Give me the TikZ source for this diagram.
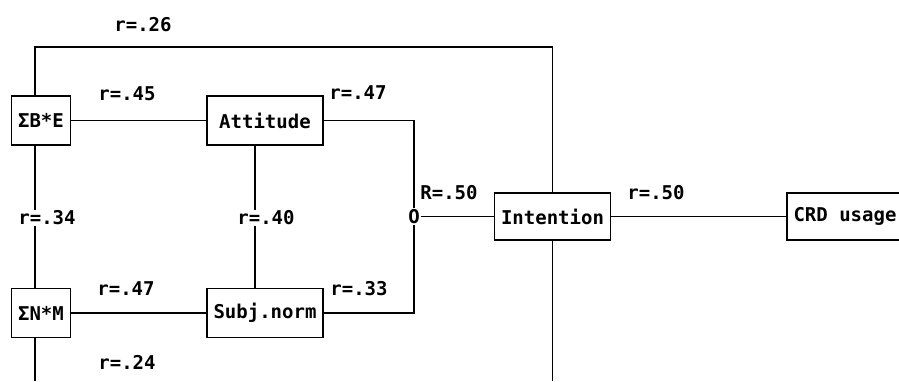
\documentclass[tikz,border=0pt]{standalone}
\usepackage{fontspec}
\setmonofont{DejaVu Sans Mono}
\usetikzlibrary{positioning}

\begin{document}
\begin{tikzpicture}[
  x=1pt, y=-1pt,
  line width=1.1pt,
  font=\ttfamily\bfseries\fontsize{19}{22}\selectfont,
  box/.style={draw,minimum height=49pt,inner sep=0pt},
  sbox/.style={box,minimum width=59pt},
  wbox/.style={box,minimum width=116pt},
  rlab/.style={inner sep=1pt},
  cutlab/.style={rlab,fill=white}
]
\useasboundingbox (0,0) rectangle (899,381);
\node[sbox] (be) at (41,120.5) {ΣB*E};
\node[wbox] (att) at (265,120.5) {Attitude};
\node[sbox] (nm) at (41,313) {ΣN*M};
\node[wbox] (sn) at (265,313) {Subj.norm};
\node[wbox,minimum height=47pt] (int) at (552.5,216.5) {Intention};
\node[wbox,minimum height=47pt] (crd) at (845,216.5) {CRD usage};
\node[inner sep=1pt] (o) at (414,216.5) {O};
\coordinate (top) at (552.5,47);
\coordinate (nb) at (35,381);
\coordinate (ib) at (552.5,381);
% connectors
\draw ([xshift=-6pt]be.north) |- (top) -- (int.north);
\draw (be.east) -- (att.west);
\draw (nm.east) -- (sn.west);
\draw ([xshift=-6pt]be.south) -- ([xshift=-6pt]nm.north);
\draw ([xshift=-10pt]att.south) -- ([xshift=-10pt]sn.north);
\draw (att.east) -| (o.north);
\draw (sn.east) -| (o.south);
\draw (o.east) -- (int.west);
\draw (int.east) -- (crd.west);
\draw (int.south) -- (ib);
\draw ([xshift=-6pt]nm.south) -- (nb);
% labels
\node[rlab] at (143,25) {r=.26};
\node[rlab] at (127,94) {r=.45};
\node[rlab] at (358,93) {r=.47};
\node[cutlab] at (47,218) {r=.34};
\node[cutlab] at (266,218) {r=.40};
\node[rlab] at (449,193) {R=.50};
\node[rlab] at (656,193) {r=.50};
\node[rlab] at (126,289) {r=.47};
\node[rlab] at (359,289) {r=.33};
\node[rlab] at (127,362) {r=.24};
\end{tikzpicture}
\end{document}
